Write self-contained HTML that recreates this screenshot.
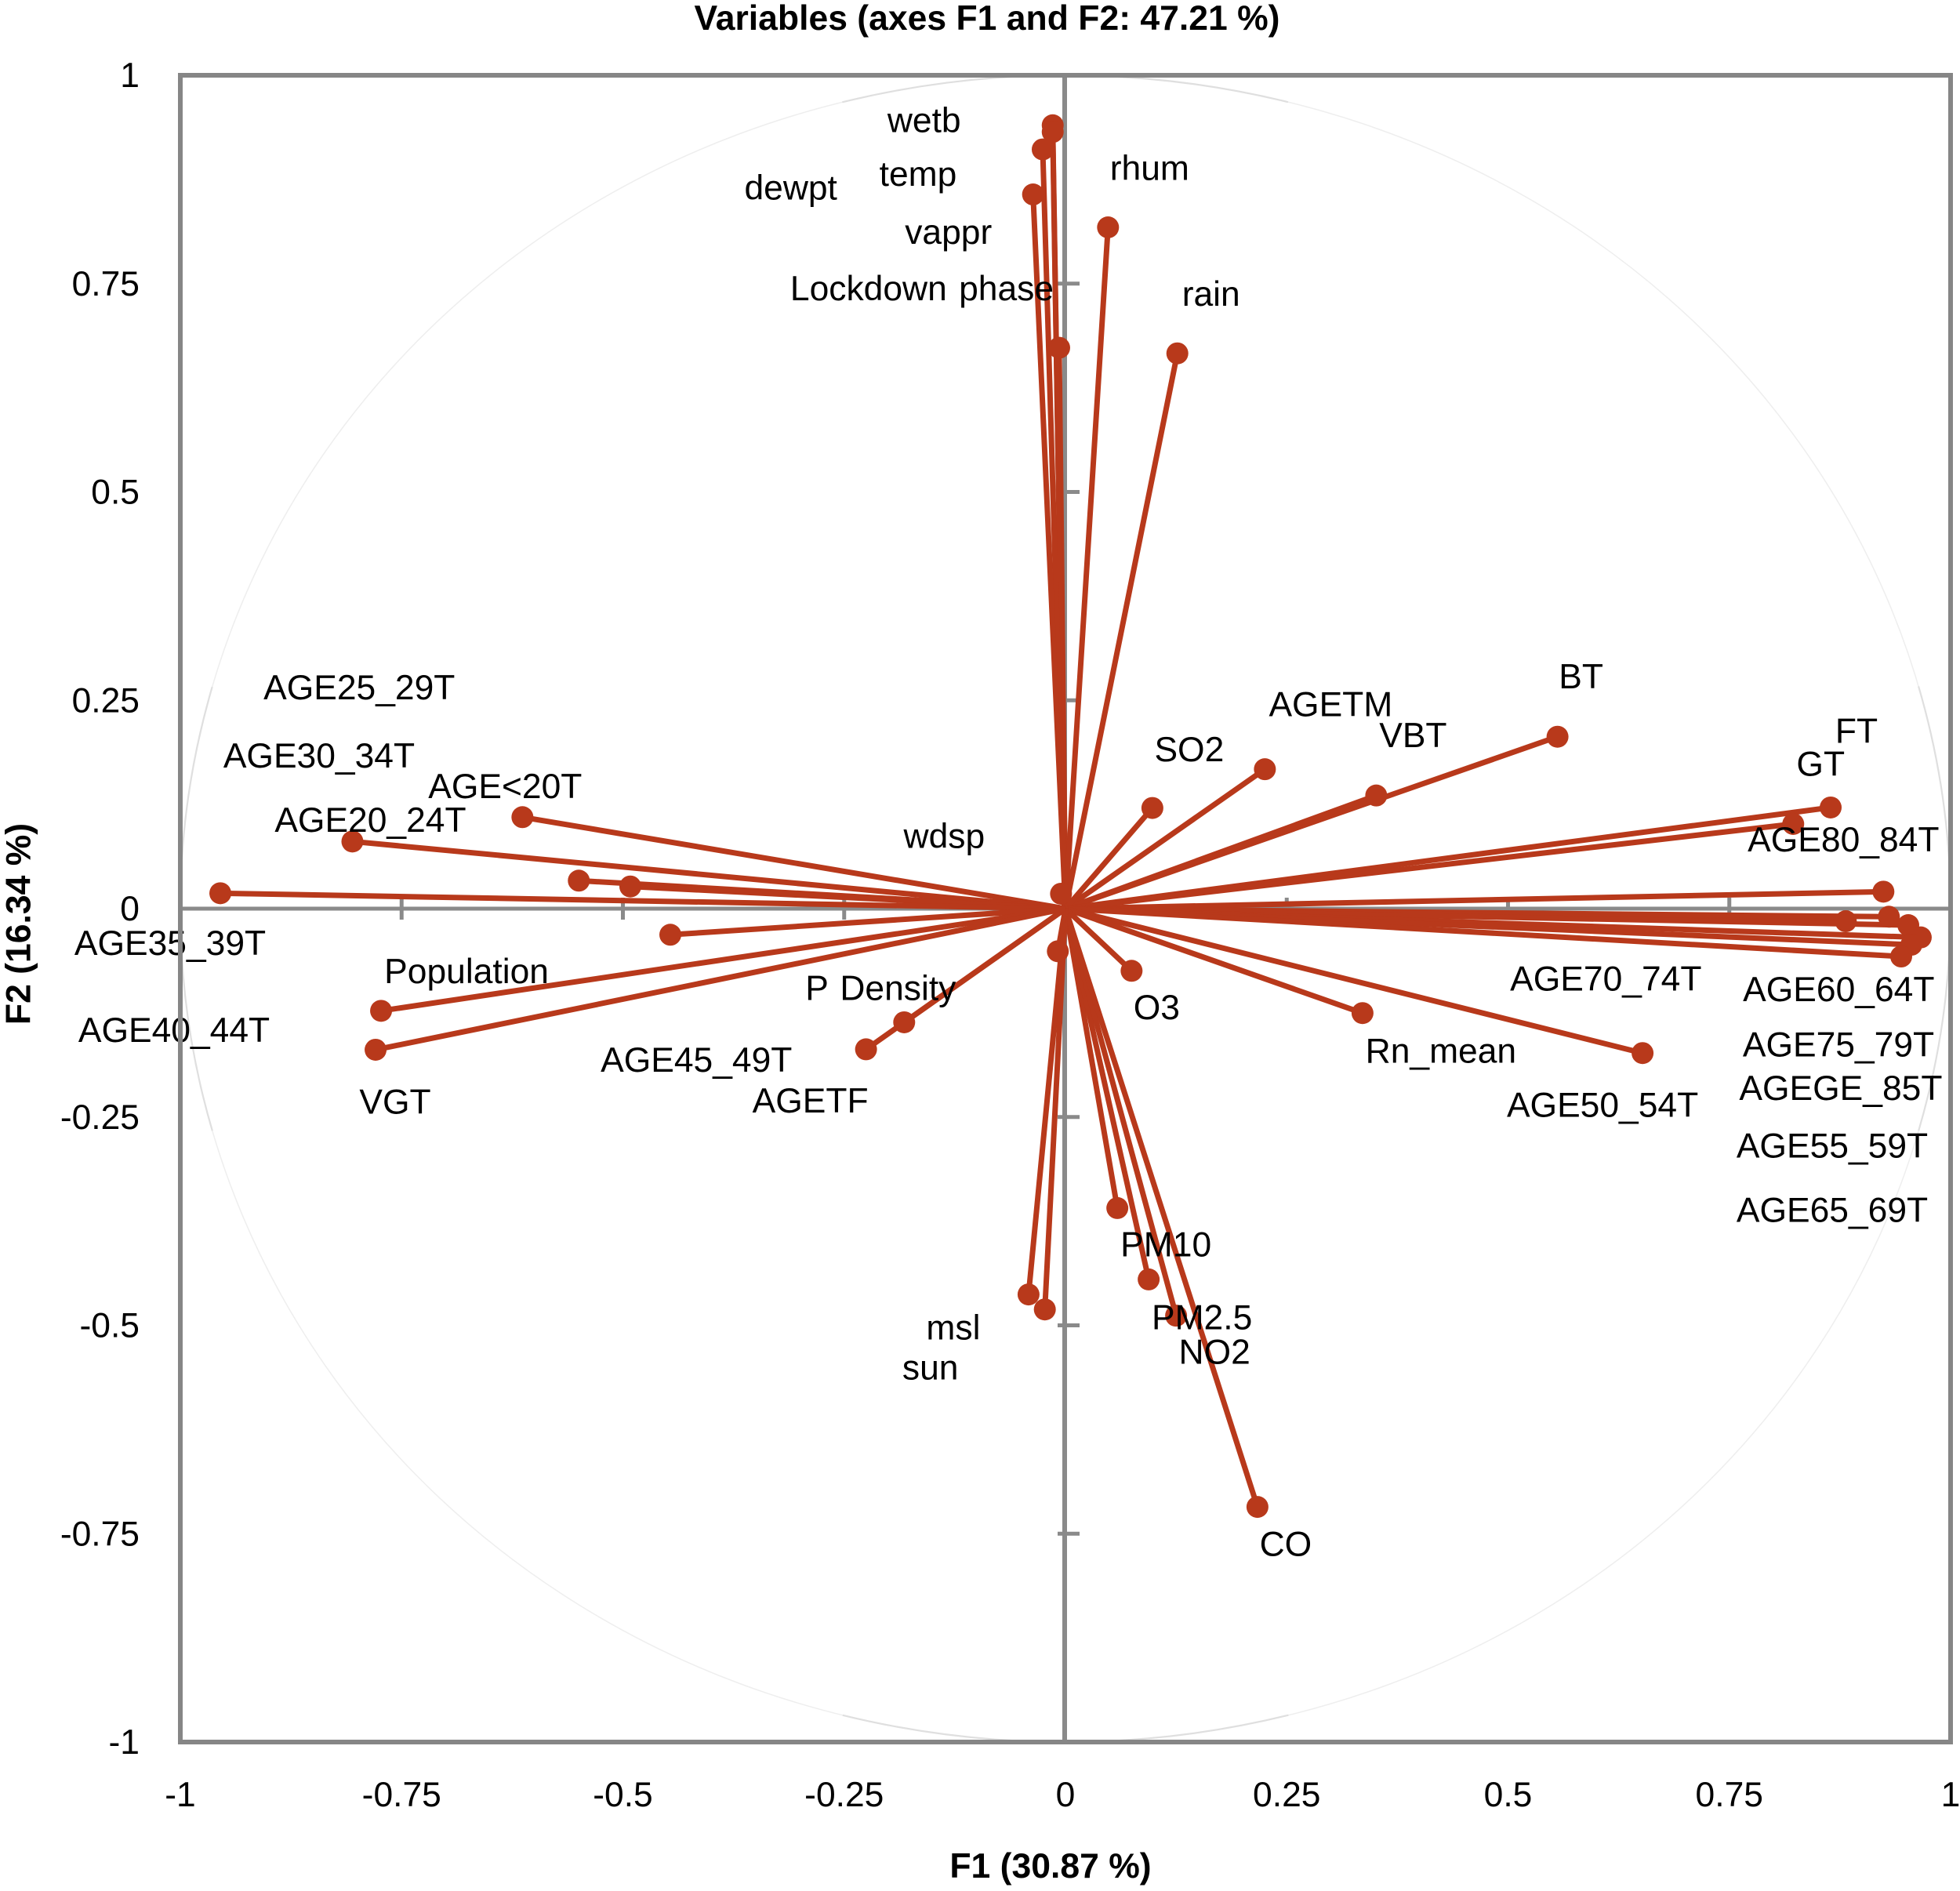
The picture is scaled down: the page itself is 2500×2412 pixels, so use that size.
<!DOCTYPE html>
<html>
<head>
<meta charset="utf-8">
<title>Variables (axes F1 and F2: 47.21 %)</title>
<style>
html,body{margin:0;padding:0;background:#fff;}
svg{display:block;font-family:"Liberation Sans",Arial,sans-serif;}
</style>
</head>
<body>
<svg id="chart" xmlns="http://www.w3.org/2000/svg" width="2500" height="2412" viewBox="0 0 2500 2412">
  <rect x="0" y="0" width="2500" height="2412" fill="#ffffff"/>
  <text x="1259" y="38" font-size="44.5" font-weight="bold" text-anchor="middle" fill="#000">Variables (axes F1 and F2: 47.21 %)</text>
  <text x="1340" y="2395" font-size="44.5" font-weight="bold" text-anchor="middle" fill="#000">F1 (30.87 %)</text>
  <text transform="translate(38.5 1178.5) rotate(-90)" font-size="44.5" font-weight="bold" text-anchor="middle" fill="#000">F2 (16.34 %)</text>
  <ellipse cx="1359" cy="1159" rx="1129" ry="1063" fill="none" stroke="#eeeeee" stroke-width="1.5"/>
  <ellipse cx="1359" cy="1159" rx="1129" ry="1063" fill="none" stroke="#dfdfdf" stroke-width="2.2" pathLength="360" stroke-dasharray="15 60 30 60 30 60 30 60 15 0"/>
  <g id="axes"></g>
  <g id="vectors"></g>
  <g id="points"></g>
  <g id="labels"></g>
  <rect x="230" y="96" width="2258" height="2126" fill="none" stroke="#868686" stroke-width="6"/>
</svg>
<script>
const variableNames = ["Lockdown phase","wetb","vappr","temp","dewpt","rhum","rain","BT","AGETM","VBT","SO2","FT","GT","AGE80_84T","AGE70_74T","AGE60_64T","AGE75_79T","AGEGE_85T","AGE55_59T","AGE65_69T","AGE50_54T","Rn_mean","O3","PM10","PM2.5","NO2","CO","msl","sun","AGETF","P Density","AGE45_49T","wdsp","AGE<20T","AGE20_24T","AGE25_29T","AGE30_34T","AGE35_39T","AGE40_44T","Population","VGT"];
const f1Values = [-0.0071,-0.0144,-0.0144,-0.0257,-0.0366,0.0481,0.1264,0.5559,0.2253,0.3511,0.0982,0.8645,0.8222,0.9241,0.8816,0.9303,0.9522,0.9663,0.9557,0.9442,0.652,0.3356,0.0747,0.0586,0.094,0.125,0.2169,-0.0417,-0.0233,-0.2253,-0.1822,-0.0086,-0.005,-0.6135,-0.8056,-0.5498,-0.4916,-0.9548,-0.4464,-0.7732,-0.7794];
const f2Values = [0.673,0.94,0.932,0.911,0.857,0.8175,0.6663,0.2063,0.1673,0.1358,0.1208,0.1214,0.1016,0.0204,-0.0151,-0.0097,-0.0198,-0.0345,-0.0433,-0.0574,-0.1733,-0.1253,-0.0746,-0.3593,-0.4449,-0.4884,-0.7179,-0.4629,-0.4809,-0.1688,-0.1364,-0.0511,0.0179,0.1098,0.0806,0.0336,0.0266,0.0185,-0.0313,-0.1226,-0.1693];
const tickValues = [-1,-0.75,-0.5,-0.25,0,0.25,0.5,0.75,1];
const tickLabels = ["-1","-0.75","-0.5","-0.25","0","0.25","0.5","0.75","1"];

/* Label placement relative to each point, in page pixels */
const labelDx = [-175,-164,-133,-159,-309,53,43,30,84,47,47,33,35,-51,-306,-64,-89,-102,-101,-88,-51,100,32,62,68,49,36,-96,-146,-71,-30,-461,-149,-22,23,-280,-397,-64,-633,109,25];
const labelDy = [-60,9,143,47,7,-60,-60,-61,-67,-61,-59,-82,-61,-51,89,108,168,208,272,339,82,64,62,62,64,62,63,58,90,81,-28,154,-58,-24,-12,-231,-151,79,137,-35,82];

const NS = "http://www.w3.org/2000/svg";
const plot = {cx:1359, cy:1159, halfW:1129, halfH:1063};
const xScale = v => plot.cx + v * plot.halfW;
const yScale = v => plot.cy - v * plot.halfH;
const axisColor = "#8a8a8a";
const vectorColor = "#b8391b";
const labelFontSize = 44.4;

function make(tag, attrs, parent, text){
  const el = document.createElementNS(NS, tag);
  for (const k in attrs) el.setAttribute(k, attrs[k]);
  if (text !== undefined) el.textContent = text;
  parent.appendChild(el);
  return el;
}

const axes = document.getElementById("axes");
const vectors = document.getElementById("vectors");
const points = document.getElementById("points");
const labels = document.getElementById("labels");

const xAxisLine = make("line", {x1:xScale(-1), x2:xScale(1), y1:yScale(0), y2:yScale(0), stroke:axisColor, "stroke-width":5}, axes);


const yAxisLine = make("line", {x1:xScale(0)-1, x2:xScale(0)-1, y1:yScale(1), y2:yScale(-1), stroke:axisColor, "stroke-width":6}, axes);



tickValues.forEach((v, i) => {
  if (Math.abs(v) < 1 && v !== 0) {
    const xt = make("line", {x1:xScale(v), x2:xScale(v), y1:yScale(0)-14, y2:yScale(0)+14, stroke:axisColor, "stroke-width":5}, axes);
    
    
    const yt = make("line", {x1:xScale(0)-10, x2:xScale(0)+18, y1:yScale(v), y2:yScale(v), stroke:axisColor, "stroke-width":5}, axes);
    
    
  }
  const xl = make("text", {x:xScale(v), y:2304, "font-size":labelFontSize, "text-anchor":"middle", fill:"#000"}, axes, tickLabels[i]);
  
  
  const yl = make("text", {x:178, y:yScale(v)+15, "font-size":labelFontSize, "text-anchor":"end", fill:"#000"}, axes, tickLabels[i]);
  
  
});

variableNames.forEach((name, i) => {
  const px = xScale(f1Values[i]);
  const py = yScale(f2Values[i]);
  const slug = name.toLowerCase().replace(/[^a-z0-9]+/g, '-');
  const line = make("line", {x1:xScale(0), y1:yScale(0), x2:px, y2:py, stroke:vectorColor, "stroke-width":7}, vectors);
  
  
  const dot = make("circle", {cx:px, cy:py, r:14, fill:vectorColor}, points);
  
  
  const lab = make("text", {x:px + labelDx[i], y:py + labelDy[i] - 0.5, "font-size":labelFontSize, "text-anchor":"middle", "word-spacing":3, fill:"#000"}, labels, name);
  
  
});
</script>
</body>
</html>
